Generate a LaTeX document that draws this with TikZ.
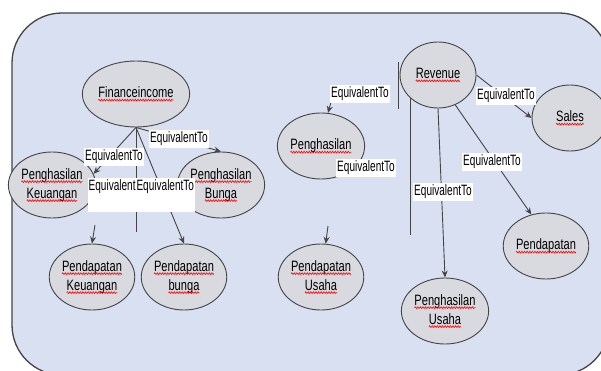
\documentclass[tikz,border=0pt]{standalone}
\usepackage{fontspec}
\usetikzlibrary{arrows.meta,shapes.geometric,decorations.pathmorphing}
\newfontfamily\nodefont[FakeStretch=0.74]{Liberation Sans}
\newfontfamily\labfont[FakeStretch=0.67]{Liberation Sans}
\definecolor{boxfill}{HTML}{D9E0F2}
\definecolor{boxline}{HTML}{444444}
\definecolor{nodefill}{HTML}{D9DADF}
\definecolor{edgecol}{HTML}{454545}
\newcommand\sq[1]{\tikz[baseline=(w.base)]{\node[shape=rectangle,draw=none,fill=none,inner sep=0pt,outer sep=0pt,minimum width=0pt,minimum height=0pt,text=black,anchor=base] (w) at (0,0) {#1};\draw[red,line width=0.6pt,decorate,decoration={zigzag,amplitude=0.9pt,segment length=2.6pt}] ([yshift=-2.6pt]w.base west) -- ([yshift=-2.6pt]w.base east);}}
\tikzset{
  cls/.style={ellipse, draw=edgecol, line width=0.9pt, fill=nodefill, minimum width=76pt, minimum height=66pt, inner sep=0pt, font=\nodefont\fontsize{15}{17}\selectfont, align=center},
  lab/.style={fill=white, inner xsep=1.5pt, inner ysep=2.5pt, font=\labfont\fontsize{15}{17}\selectfont, text=black},
  rel/.style={draw=edgecol, line width=0.9pt},
  arr/.style={rel, -{Stealth[length=7pt,width=6pt]}},
}
\begin{document}
\begin{tikzpicture}[x=1pt,y=-1pt]
\useasboundingbox (0,0) rectangle (601,371);
\fill[white] (0,0) rectangle (601,371);
\clip (0,0) rectangle (601,371);
\draw[draw=boxline, line width=1.3pt, fill=boxfill, rounded corners=50pt] (12,13) rectangle (609,375);

% nodes
\node[cls] (fin) at (136,94) {\sq{Financeincome}};
\node[cls] (pk) at (52,185) {\sq{Penghasilan}\\[2pt]\sq{Keuangan}};
\node[cls] (pb) at (221,185) {\sq{Penghasilan}\\[2pt]\sq{Bunga}};
\node[cls] (pdk) at (92,277) {\sq{Pendapatan}\\[2pt]\sq{Keuangan}};
\node[cls] (pdb) at (184,277) {\sq{Pendapatan}\\[2pt]\sq{bunga}};
\node[cls] (rev) at (438,75) {\sq{Revenue}};
\node[cls] (sales) at (570,118) {\sq{Sales}};
\node[cls] (peng) at (321,146) {\sq{Penghasilan}};
\node[cls] (pend) at (546,246) {\sq{Pendapatan}};
\node[cls] (pdu) at (321,277) {\sq{Pendapatan}\\[2pt]\sq{Usaha}};
\node[cls] (pgu) at (445,311) {\sq{Penghasilan}\\[2pt]\sq{Usaha}};

% coordinates for loose ends
\coordinate (fvend) at (136,232);
\coordinate (pdka) at (95,225);
\coordinate (r6a) at (398,62);
\coordinate (r6b) at (398,109);
\coordinate (r6c) at (331,102);
\coordinate (r7b) at (411,235);
\coordinate (r7c) at (328,226);

% left group edges
\draw[arr] (fin.south) -- (pk.15);
\draw[arr] (fin.south) -- (pb.north);
\draw[rel] (fin.south) -- (fvend);
\draw[arr] (pdka) -- (pdk.north);
\draw[arr] (fin.south) -- (pdb.north);

% right group edges
\draw[rel] (r6a) -- (r6b);
\draw[arr] (r6c) -- (peng.78);
\draw[rel] (rev.220) -- (rev.220 |- r7b);
\draw[arr] (r7c) -- (pdu.82);
\draw[arr] (rev.south) -- (pgu.north);
\draw[arr] (rev.300) -- (pend.115);
\draw[arr] (rev.east) -- (sales.west);

% labels
\node[lab] (l1) at (114,157) {EquivalentTo};
\node[lab] (l2) at (179,139) {EquivalentTo};
\node[fill=white, minimum width=107pt, minimum height=34pt, inner sep=0pt, anchor=north west] (lbox) at (88,178) {};
\node[lab, fill=none, anchor=north west, inner xsep=0.5pt, inner ysep=1.5pt] (l3) at (lbox.north west) {Equivalent};
\node[lab, fill=none, anchor=west, inner xsep=0pt, inner ysep=1.5pt] (l5) at (l3.east) {EquivalentTo};
\node[lab] (l6) at (360,94) {EquivalentTo};
\node[lab] (l7) at (366,168) {EquivalentTo};
\node[lab] (l8) at (443,192) {EquivalentTo};
\node[lab] (l9) at (492,162) {EquivalentTo};
\node[lab] (l10) at (506,96) {EquivalentTo};
\end{tikzpicture}
\end{document}
